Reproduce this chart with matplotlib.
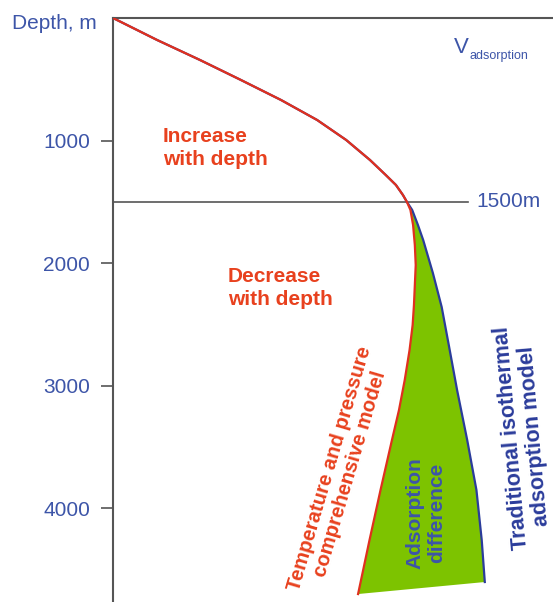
import matplotlib
matplotlib.use("Agg")
import matplotlib.pyplot as plt
import numpy as np

plt.rcParams['font.family'] = ['Liberation Sans', 'DejaVu Sans']

# Shared segment (0-1500 m)
common_depth = [0, 179, 343, 506, 669, 832, 995, 1158, 1281, 1362, 1444, 1500]
common_v = [0, 1.00, 1.98, 2.91, 3.82, 4.64, 5.30, 5.84, 6.20, 6.43, 6.59, 6.68]

# Temperature and pressure comprehensive model (below 1500 m)
red_depth = [1500, 1566, 1688, 1852, 2015, 2178, 2341, 2504, 2708, 2953, 3197, 3442, 3850, 4258, 4698]
red_v = [6.68, 6.76, 6.82, 6.86, 6.88, 6.86, 6.84, 6.81, 6.74, 6.63, 6.50, 6.34, 6.08, 5.83, 5.57]

# Traditional isothermal adsorption model (below 1500 m)
blue_depth = [1500, 1566, 1688, 1811, 2080, 2357, 2684, 3034, 3442, 3850, 4258, 4600]
blue_v = [6.68, 6.80, 6.93, 7.05, 7.27, 7.47, 7.64, 7.82, 8.05, 8.26, 8.38, 8.45]

yticks = [1000, 2000, 3000, 4000]
boundary_depth = 1500

RED = '#E0301E'
RED_TXT = '#E8411E'
BLUE = '#2B3C9B'
BLUE_TXT = '#3D55A8'
GREEN = '#7DC300'
GRAY = '#555555'

fig = plt.figure(figsize=(5.53, 6.02), dpi=100)
ax = fig.add_axes([113/553, 0, 1 - 113/553, (602-18)/602])
ax.set_xlim(0, 10)
ax.set_ylim(4763, 0)

# green fill between curves
poly_x = np.concatenate([blue_v, red_v[::-1]])
poly_y = np.concatenate([blue_depth, red_depth[::-1]])
ax.fill(poly_x, poly_y, color=GREEN, lw=0, zorder=1)

ax.plot(common_v + blue_v[1:], common_depth + blue_depth[1:], color=BLUE, lw=1.6, zorder=3,
        solid_joinstyle='round')
ax.plot(common_v + red_v[1:], common_depth + red_depth[1:], color=RED, lw=1.6, zorder=4,
        solid_joinstyle='round')

# 1500 m line
ax.plot([0, 8.07], [boundary_depth, boundary_depth], color=GRAY, lw=1.2, zorder=2)
ax.text(8.25, boundary_depth, '1500m', color=BLUE_TXT, fontsize=15, va='center', ha='left')

for s in ['right', 'bottom']:
    ax.spines[s].set_visible(False)
for s in ['left', 'top']:
    ax.spines[s].set_color(GRAY)
    ax.spines[s].set_linewidth(1.5)

ax.set_xticks([])
ax.set_yticks(yticks)
ax.set_yticklabels([str(t) for t in yticks], color=BLUE_TXT, fontsize=15)
ax.tick_params(axis='y', length=8.6, width=1.2, color=GRAY, pad=8)

# labels in figure pixel coords
def fx(px):
    return px / 553
def fy(py):
    return 1 - py / 602

fig.text(fx(12), fy(29), 'Depth, m', color=BLUE_TXT, fontsize=15, ha='left', va='baseline')
fig.text(fx(454), fy(53), 'V', color=BLUE_TXT, fontsize=16, ha='left', va='baseline')
fig.text(fx(469), fy(59), 'adsorption', color=BLUE_TXT, fontsize=9, ha='left', va='baseline')

for txt, x0, y0 in [('Increase', 163, 142), ('with depth', 163, 165),
                    ('Decrease', 228, 282), ('with depth', 228, 305)]:
    fig.text(fx(x0), fy(y0), txt, color=RED_TXT, fontsize=15,
             fontweight='bold', ha='left', va='baseline')

fig.text(fx(340), fy(471), 'Temperature and pressure\ncomprehensive model', color=RED_TXT,
         fontsize=14.6, fontweight='bold', ha='center', va='center', rotation=73.6,
         rotation_mode='anchor', multialignment='center', linespacing=1.1)
fig.text(fx(426), fy(513), 'Adsorption\ndifference', color=BLUE_TXT,
         fontsize=15, fontweight='bold', ha='center', va='center', rotation=90,
         rotation_mode='anchor', multialignment='center', linespacing=1.15)
fig.text(fx(523), fy(437), 'Traditional isothermal\nadsorption model', color=BLUE,
         fontsize=15.5, fontweight='bold', ha='center', va='center', rotation=95,
         rotation_mode='anchor', multialignment='center', linespacing=1.1)

fig.savefig('out.png', dpi=100)
